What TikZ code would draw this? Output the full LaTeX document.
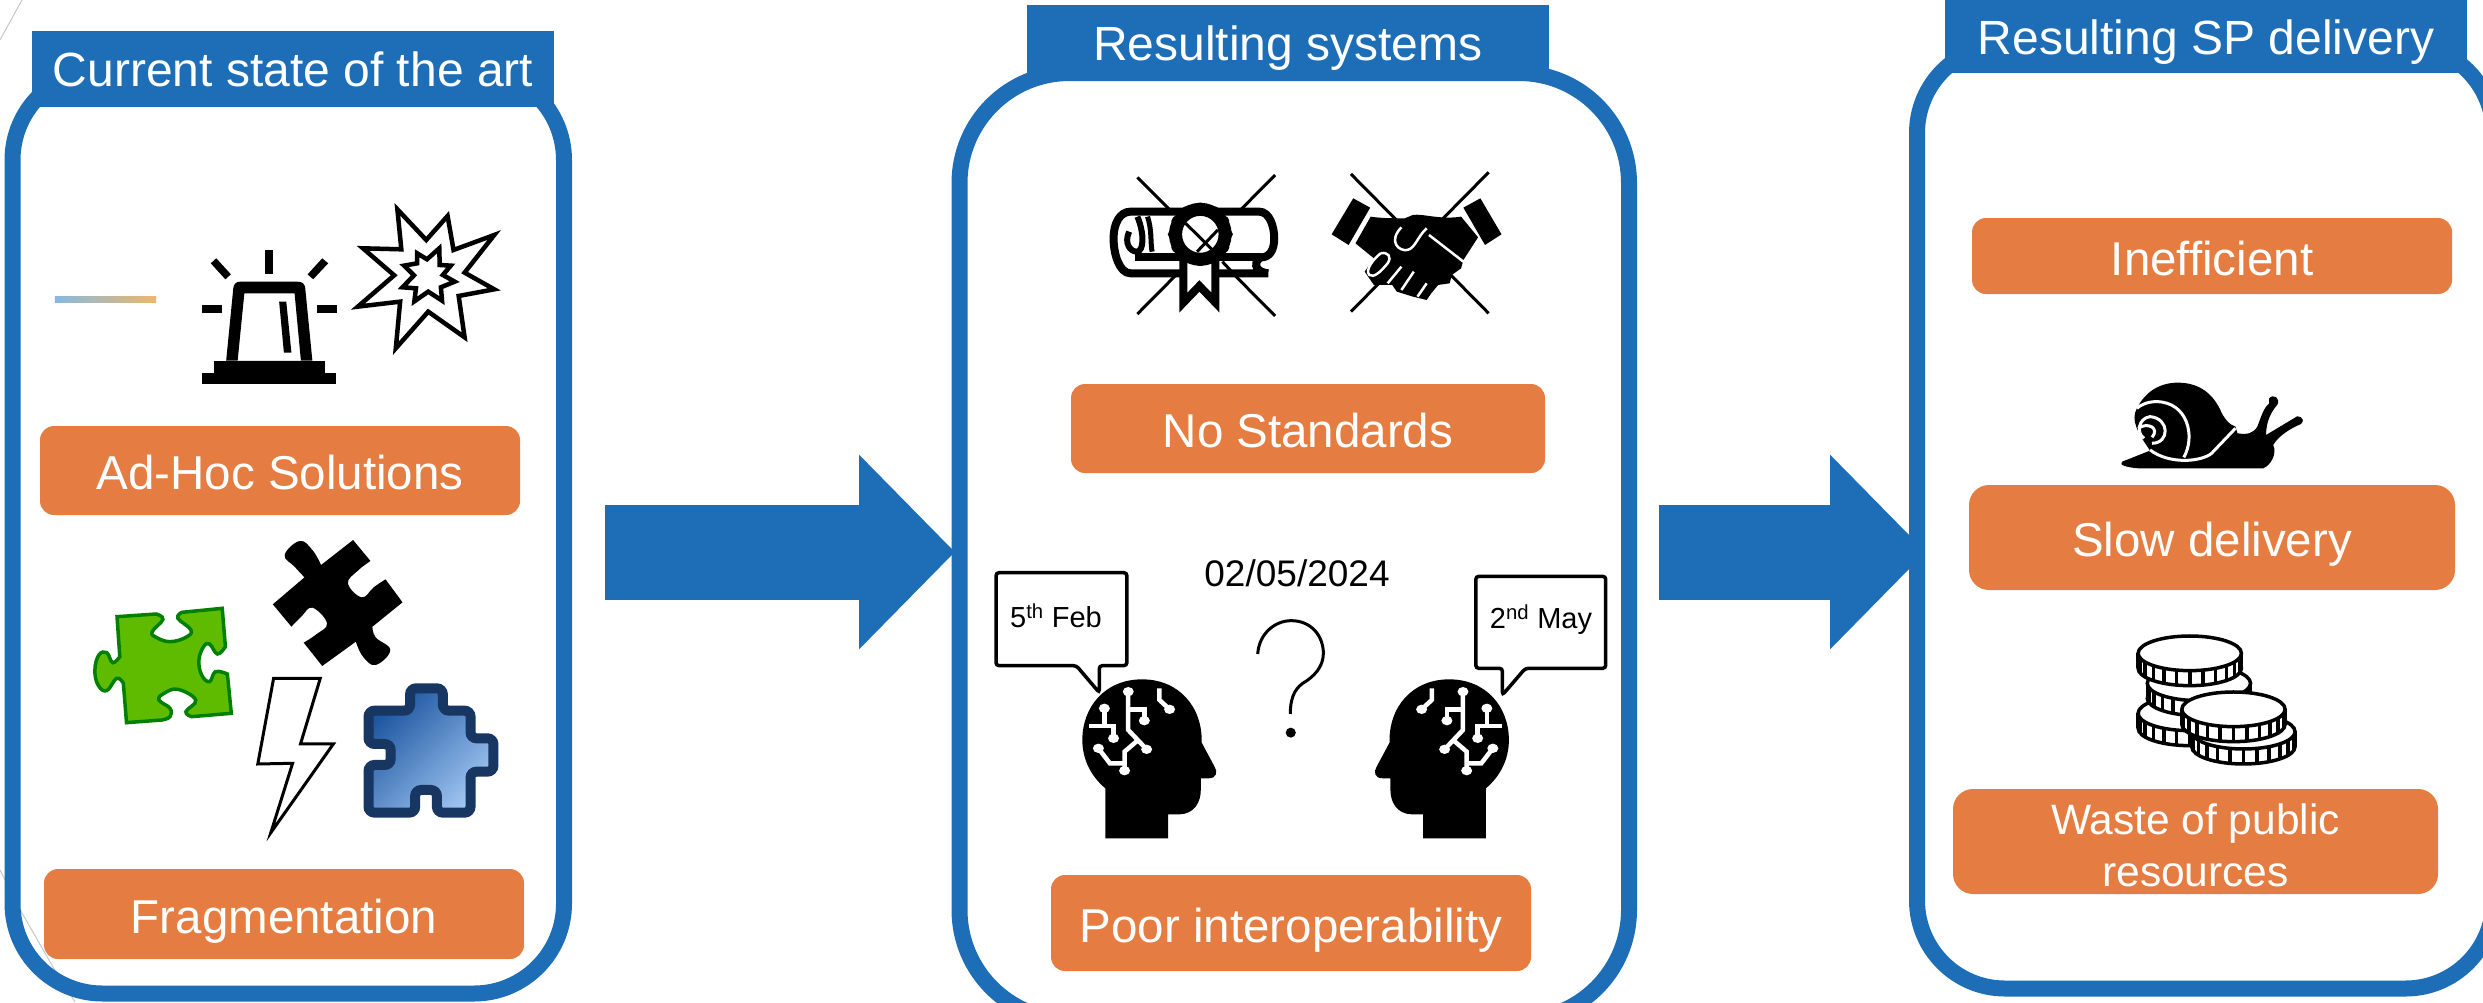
\documentclass[tikz,border=0pt]{standalone}
\usepackage{fontspec}
\setmainfont{Liberation Sans}
\usetikzlibrary{arrows.meta}
\definecolor{panelblue}{HTML}{1E6EB7}
\definecolor{tagorange}{HTML}{E57D42}
\definecolor{fadeblue}{HTML}{86B9E2}
\definecolor{fadeorange}{HTML}{EDB868}
\newcommand{\headicon}{
	\fill (360,1015)--(497,1015)--(497,943)--(520,943) .. controls (555,943) and (568,905) .. (568,870)--(568,835)--(585,835) .. controls (603,835) and (605,815) .. (598,800)--(570,728) .. controls (572,620) and (520,538) .. (440,538) .. controls (360,538) and (310,620) .. (310,720) .. controls (310,780) and (330,830) .. (360,865)--cycle;
	\draw[circuit] (410,575)--(410,690)--(450,748);
	\draw[circuit] (430,722)--(402,755)--(402,812);
	\draw[circuit] (410,628)--(445,628)--(445,662);
	\draw[circuit] (358,625)--(358,678);
	\draw[circuit] (325,678)--(378,678)--(378,715);
	\draw[circuit] (345,745)--(370,790)--(402,790);
	\draw[circuit] (478,565)--(478,600)--(500,628);
	\foreach \px/\py in {410/575,450/748,402/812,445/662,358/625,378/715,345/745,500/628}
		\fill[white] (\px,\py) circle [x radius=12,y radius=14];
}
\newcommand{\coinicon}[2]{
	\draw[coin] (#1,#2+45) circle [x radius=130,y radius=52];
	\fill[white] (#1-128,#2) rectangle (#1+128,#2+45);
	\draw[coin] (#1-130,#2)--(#1-130,#2+45);
	\draw[coin] (#1+130,#2)--(#1+130,#2+45);
	\foreach \t in {15,30,...,165}
		\draw[coin] ({#1+130*cos(\t)},{#2+52*sin(\t)})--({#1+130*cos(\t)},{#2+45+52*sin(\t)});
	\draw[coin] (#1,#2) circle [x radius=130,y radius=52];
}
\begin{document}
\begin{tikzpicture}[x=1pt,y=-1pt]
	\tikzstyle head=[fill=panelblue,text=white,font=\fontsize{48}{52}\selectfont,inner sep=0,outer sep=0,text height=35,text depth=0]
	\tikzstyle panel=[draw=panelblue,line width=16,inner sep=0,outer sep=0]
	\tikzstyle tag=[fill=tagorange,text=white,font=\fontsize{47.5}{52}\selectfont,inner sep=0,outer sep=0,rounded corners=14]
	\tikzstyle box=[tag,text height=38,text depth=0]
	\tikzstyle blockarrow=[panelblue,line width=95,-{Triangle[length=96pt,width=189pt]}]
	\tikzstyle ink=[line width=4.5,miter limit=20]
	\tikzstyle circuit=[white,line width=4.5]
	\tikzstyle coin=[black,line width=3.5,fill=white]
	\tikzstyle bubble=[line width=3.5,rounded corners=3]
	\tikzstyle stamp=[font=\fontsize{29}{32}\selectfont,inner sep=0]

	\useasboundingbox (0,0) rectangle (2483,1002);
	\clip (0,0) rectangle (2483,1002);

	\draw[black!22,line width=1] (22,0)--(0,40);
	\draw[black!22,line width=1] (0,870)--(22,913)--(53,967)--(75,1002);

	\coordinate (t1) at (605,552);
	\coordinate (h1) at (955,552);
	\coordinate (t2) at (1659,552);
	\coordinate (h2) at (1926,552);
	\draw[blockarrow] (t1)--(h1);
	\draw[blockarrow] (t2)--(h2);

	\node (p1) [panel,rounded corners=90,minimum width=551.5,minimum height=923.5] at (288.25,531.75) {};
	\node (p2) [panel,fill=white,rounded corners=110,minimum width=669.5,minimum height=947] at (1294.25,546.5) {};
	\node (p3) [panel,fill=white,rounded corners=88,minimum width=576.5,minimum height=943.5] at (2205.25,516.75) {};

	\node (h1n) [head,minimum width=522,minimum height=76] at (293,69) {Current state of the art};
	\node (h2n) [head,minimum width=522,minimum height=76] at (1288,43) {Resulting systems};
	\node (h3n) [head,minimum width=522,minimum height=73] at (2206,36.5) {Resulting SP delivery};

	\node (a1) [box,minimum width=480,minimum height=89] at (280,470.5) {Ad-Hoc Solutions};
	\node (a2) [box,minimum width=480,minimum height=90] at (284,914) {Fragmentation};
	\node (b1) [box,minimum width=474,minimum height=89] at (1308,428.5) {No Standards};
	\node (b2) [box,minimum width=480,minimum height=96] at (1291,923) {Poor interoperability};
	\node (c1) [box,minimum width=480,minimum height=76] at (2212,256) {Inefficient};
	\node (c2) [box,rounded corners=20,minimum width=486,minimum height=105] at (2212,537.5) {Slow delivery};
	\node (c3) [tag,rounded corners=20,align=center,font=\fontsize{42.5}{51.5}\selectfont,minimum width=485,minimum height=105] at (2195.5,841.5) {\rule{0pt}{38pt}Waste of public\\resources};

	\node (d1) [font=\fontsize{37}{40}\selectfont,inner sep=0] at (1297,573) {02/05/2024};
	\node (s1) [stamp] at (1056,616) {5\textsuperscript{th} Feb};
	\node (s2) [stamp] at (1541,620) {2\textsuperscript{nd} May};

	\begin{scope}[xscale=0.3954,yscale=0.3333]
		\shade[left color=fadeblue,right color=fadeorange] (139,891) rectangle (395,908);
		\fill (511,1118) rectangle (851,1153);
		\fill (541,1082) rectangle (821,1118);
		\fill[even odd rule] (572,1082)--(590,865) .. controls (591,852) and (597,845) .. (608,845)--(752,845) .. controls (765,845) and (771,852) .. (772,865)--(790,1082)--cycle (601,1082)--(618,880)--(745,880)--(761,1082)--cycle;
		\fill (706,905)--(724,905)--(737,1058)--(718,1058)--cycle;
		\fill (670,750) rectangle (690,822);
		\fill (511,916) rectangle (561,940);
		\fill (802,916) rectangle (852,940);
		\fill (533,790)--(547,775)--(584,823)--(570,838)--cycle;
		\fill (778,823)--(815,775)--(830,790)--(792,838)--cycle;
		\draw[ink] (1005,628)--(1078,720)--(1132,648)--(1147,750)--(1250,705)--(1175,818)--(1250,868)--(1160,888)--(1175,1012)--(1083,935)--(1001,1045)--(1012,905)--(905,920)--(997,826)--(918,745)--(1015,748)--cycle;
		\draw[ink] (1111,745)--(1112,795)--(1140,797)--(1120,825)--(1150,845)--(1115,862)--(1118,902)--(1083,875)--(1048,904)--(1052,865)--(1018,862)--(1047,826)--(1022,797)--(1055,790)--(1055,760)--(1080,778)--cycle;
	\end{scope}

	\begin{scope}[shift={(0,500)},xscale=0.3954,yscale=0.3333]
		\fill (893,120)--(937,183)--plot[smooth,tension=.7] coordinates {(937,183) (905,212) (880,250) (915,292) (945,262) (975,238)}--(1018,307)--(942,380)--plot[smooth,tension=.7] coordinates {(942,380) (950,412) (987,450) (950,495) (918,470) (900,425)}--(815,498)--(768,428)--plot[smooth,tension=.7] coordinates {(768,428) (800,403) (827,370) (790,323) (762,350) (737,380)}--(690,313)--(770,232)--plot[smooth,tension=.7] coordinates {(770,232) (745,200) (720,165) (758,123) (790,150) (812,195)}--cycle;
		\draw[green!50!black,line width=3.5,fill={rgb,255:red,95;green,187;blue,0}] (296,350)--(395,342)--plot[smooth,tension=.7] coordinates {(395,342) (412,358) (385,395) (395,412) (430,425) (470,412) (483,390) (450,355) (460,337)}--(562,325)--(570,440)--plot[smooth,tension=.7] coordinates {(570,440) (550,462) (530,432) (515,440) (503,480) (510,525) (530,545) (545,515) (575,522)}--(585,640)--(485,650)--plot[smooth,tension=.7] coordinates {(485,650) (470,635) (495,600) (450,568) (415,580) (402,600) (430,625) (430,650) (410,660)}--(320,668)--(312,550)--plot[smooth,tension=.7] coordinates {(312,550) (295,535) (270,572) (248,555) (240,510) (250,465) (270,458) (285,488) (303,470)}--cycle;
		\draw[ink,line width=3] (692,535)--(810,535)--(760,732)--(843,732)--(685,998)--(740,790)--(652,792)--cycle;
		\draw[draw={rgb,255:red,23;green,54;blue,97},line width=10,rounded corners=6,left color={rgb,255:red,28;green,85;blue,160},right color={rgb,255:red,160;green,198;blue,242},shading angle=45] (932,632)--(1037,632)--(1037,565)--(1120,565)--(1120,632)--(1190,632)--(1190,715)--(1248,715)--(1248,815)--(1190,815)--(1190,938)--(1105,938)--(1105,870)--(1050,870)--(1050,938)--(932,938)--(932,795)--(988,795)--(988,732)--(932,732)--cycle;
	\end{scope}

	\begin{scope}[shift={(940,0)},xscale=0.4591,yscale=0.3333]
		\draw[line width=3] (430,532)--(730,948);
		\draw[line width=3] (730,525)--(430,942);
		\draw[line width=8,fill=white] (715,820)--(415,820) .. controls (390,820) and (378,760) .. (378,715) .. controls (378,670) and (392,635) .. (415,635)--(695,635) .. controls (718,635) and (728,680) .. (728,715) .. controls (728,750) and (718,772) .. (700,772) .. controls (685,780) and (680,815) .. (715,820);
		\draw[line width=8] (425,772)--(700,772);
		\draw[line width=5] (452,650) .. controls (462,690) and (458,730) .. (462,755);
		\draw[line width=6] (412,695) .. controls (400,730) and (415,755) .. (428,755) .. controls (445,755) and (445,700) .. (430,650);
		\draw[line width=3] (615,785)--(640,822);
		\draw[line width=8,fill=white] (530,780)--(530,908)--(565,858)--(600,908)--(600,780);
		\foreach \a in {0,30,...,330}
			\fill ({567+58*cos(\a)},{703+80*sin(\a)}) circle [x radius=13,y radius=15];
		\draw[line width=13,fill=white] (567,703) circle [x radius=54,y radius=75];
		\draw[line width=3] (535,670)--(595,752);
		\draw[line width=3] (605,690)--(560,755);
		\draw[line width=3] (895,522)--(1195,940);
		\draw[line width=3] (1195,517)--(895,935);
		\fill (853,703)--(900,595)--(937,623)--(890,735)--cycle;
		\fill (1140,623)--(1177,595)--(1223,703)--(1187,735)--cycle;
		\fill (905,730)--(938,650) .. controls (960,655) and (990,655) .. (1012,655)--(1030,645) .. controls (1050,640) and (1090,660) .. (1135,650)--(1172,712)--(1140,780)--(1135,805)--(1115,825)--(1110,850)--(1085,855)--(1070,880)--(1060,900)--(1030,890)--(995,875)--(985,855)--(945,855)--(925,815)--(945,775)--cycle;
		\draw[white,line width=2.5] (1005,682) .. controls (975,725) and (1000,755) .. (1018,750) .. controls (1035,745) and (1040,710) .. (1060,685);
		\draw[white,line width=2.5] (1065,705)--(1140,785);
		\draw[white,line width=2.5] (960,760) .. controls (945,775) and (925,810) .. (935,825) .. controls (945,835) and (960,815) .. (975,790) .. controls (985,770) and (975,755) .. (960,760);
		\draw[white,line width=2.5] (975,850)--(1005,800);
		\draw[white,line width=2.5] (1005,870)--(1032,815);
		\draw[white,line width=2.5] (1040,890)--(1060,850);
	\end{scope}

	\begin{scope}[shift={(940,500)},xscale=0.4591,yscale=0.3333]
		\headicon
		\draw[bubble] (122,218)--(407,218)--(407,497)--(347,497)--(347,578)--(297,497)--(122,497)--cycle;
		\draw[bubble] (1167,229)--(1450,229)--(1450,505)--(1275,505)--(1225,585)--(1225,505)--(1167,505)--cycle;
		\draw[line width=3] (692,462) .. controls (695,400) and (730,362) .. (765,362) .. controls (810,362) and (835,410) .. (835,460) .. controls (835,500) and (815,530) .. (790,550) .. controls (770,570) and (763,600) .. (763,642);
		\fill (764,698) circle [x radius=11,y radius=15];
	\end{scope}

	\begin{scope}[shift={(1651.2,500)},xscale=-0.4591,yscale=0.3333]
		\headicon
	\end{scope}

	\begin{scope}[shift={(1860,0)},xscale=0.3973,yscale=0.3333]
		\fill (660,1385)--(730,1352) .. controls (700,1300) and (680,1260) .. (697,1225) .. controls (720,1170) and (760,1148) .. (800,1148) .. controls (860,1148) and (890,1190) .. (905,1225) .. controls (915,1255) and (930,1275) .. (945,1280)--(950,1300) .. controls (975,1305) and (990,1300) .. (1000,1280) .. controls (1010,1250) and (1015,1225) .. (1030,1210)--(1030,1195) .. controls (1040,1180) and (1060,1195) .. (1050,1215) .. controls (1035,1235) and (1022,1265) .. (1022,1305)--(1092,1255) .. controls (1100,1240) and (1125,1255) .. (1110,1272) .. controls (1085,1285) and (1055,1305) .. (1040,1335) .. controls (1050,1360) and (1035,1395) .. (1015,1405)--(700,1405) .. controls (670,1402) and (650,1395) .. (660,1385)--cycle;
		\draw[white,line width=3] (945,1285)--(885,1360) .. controls (860,1385) and (780,1395) .. (730,1350);
		\draw[white,line width=3] (815,1372) .. controls (845,1310) and (825,1205) .. (745,1205) .. controls (725,1205) and (705,1215) .. (697,1225);
		\draw[white,line width=3] (735,1330) .. controls (780,1330) and (780,1255) .. (730,1250) .. controls (700,1255) and (695,1300) .. (715,1315);
		\draw[white,line width=3] (700,1285) .. controls (725,1265) and (755,1285) .. (735,1312);
	\end{scope}

	\begin{scope}[shift={(1860,500)},xscale=0.3973,yscale=0.3333]
		\coinicon{830}{640}
		\coinicon{853}{550}
		\coinicon{830}{460}
		\coinicon{965}{695}
		\coinicon{940}{628}
	\end{scope}
\end{tikzpicture}
\end{document}
